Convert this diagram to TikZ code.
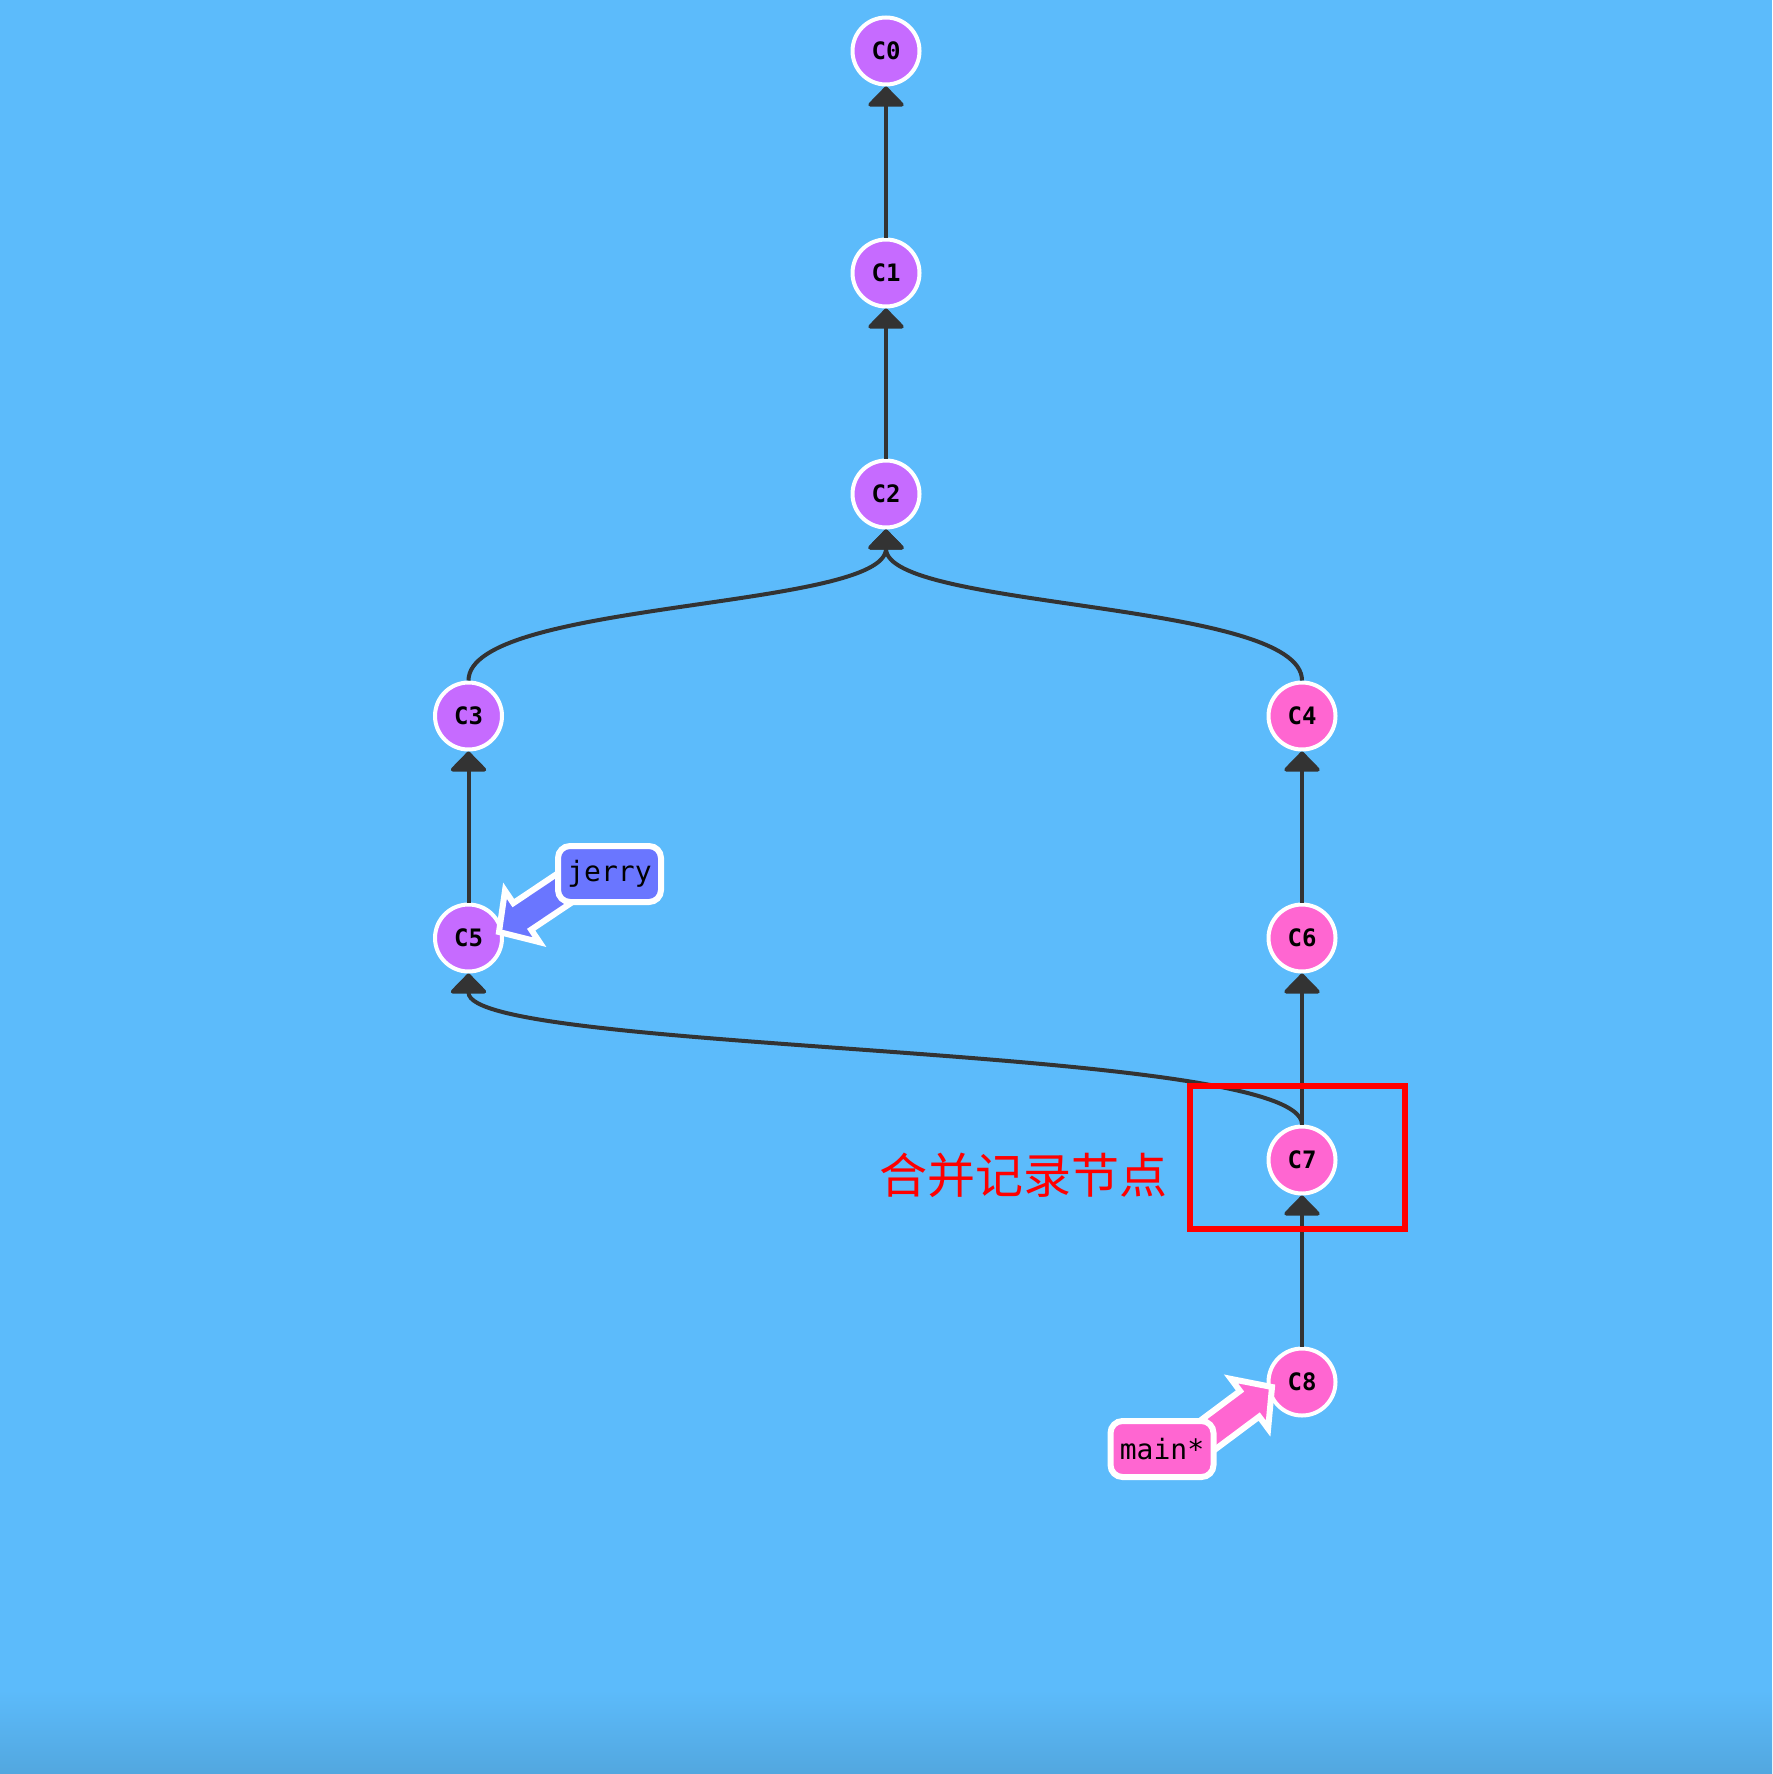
\documentclass[tikz,border=0pt]{standalone}
\usepackage{fontspec}
\newfontfamily\monofnt{DejaVu Sans Mono}
\newfontfamily\cjkfnt{Noto Sans CJK SC}
\usetikzlibrary{arrows.meta,calc}
\definecolor{bgc}{HTML}{5CBBFB}
\definecolor{bgd}{HTML}{52A7DF}
\definecolor{purp}{HTML}{C66BFF}
\definecolor{pinkc}{HTML}{FF66D1}
\definecolor{jerc}{HTML}{6A76FF}
\definecolor{edgec}{HTML}{333333}
\pgfdeclarelayer{bg}\pgfdeclarelayer{arr}\pgfdeclarelayer{top}
\pgfsetlayers{bg,main,arr,top}
\begin{document}
\begin{tikzpicture}[x=1pt,y=-1pt,
  commit/.style={circle, draw=white, line width=4pt, minimum size=67pt, inner sep=0pt, font=\monofnt\bfseries\fontsize{24}{24}\selectfont},
  pc/.style={commit, fill=purp},
  kc/.style={commit, fill=pinkc},
  edge/.style={draw=edgec, line width=4pt, -{Triangle[width=40pt,length=21pt,round]}},
  blabel/.style={rectangle, rounded corners=12pt, draw=white, line width=6pt, minimum width=103pt, minimum height=56pt, inner sep=0pt, font=\monofnt\fontsize{28}{28}\selectfont},
  barrow/.style={draw=white, line width=6pt, line join=miter, miter limit=10}
]
\begin{pgfonlayer}{bg}
\fill[bgc] (0,0) rectangle (1772,1774);
\shade[top color=bgc, bottom color=bgd] (0,1690) rectangle (1772,1774);
\end{pgfonlayer}
\useasboundingbox (0,0) rectangle (1772,1774);

\node[pc] (C0) at (886,51) {C0};
\node[pc] (C1) at (886,273) {C1};
\node[pc] (C2) at (886,494) {C2};
\node[pc] (C3) at (468.5,716) {C3};
\node[kc] (C4) at (1302,716) {C4};
\node[pc] (C5) at (468.5,938) {C5};
\node[kc] (C6) at (1302,938) {C6};
\node[kc] (C7) at (1302,1160) {C7};
\node[kc] (C8) at (1302,1382) {C8};

\draw[edge] (C1) -- (C0);
\draw[edge] (C2) -- (C1);
\draw[edge] (C3.north) .. controls +(0,-80) and +(0,80) .. (C2.south);
\draw[edge] (C4.north) .. controls +(0,-80) and +(0,80) .. (C2.south);
\draw[edge] (C5) -- (C3);
\draw[edge] (C6) -- (C4);
\draw[edge] (C7) -- (C6);
\draw[edge] (C7.north) .. controls +(0,-80) and +(0,80) .. (C5.south);
\draw[edge] (C8) -- (C7);

\begin{pgfonlayer}{top}
\node[blabel, fill=jerc] (jerry) at (609.5,874) {jerry};
\node[blabel, fill=pinkc] (mainb) at (1162,1449) {main*};
\node[draw=red, line width=6pt, minimum width=215pt, minimum height=143pt, inner sep=0pt] (hl) at (1297.5,1157.5) {};
\node[anchor=base, text=red, inner sep=0pt, font=\cjkfnt\fontsize{48}{48}\selectfont] (note) at (1023.5,1193) {合并记录节点};
\end{pgfonlayer}

\begin{pgfonlayer}{arr}
\coordinate (jt) at (499,932);
\coordinate (jb) at ($(jerry.center)+(-24,0)$);
\coordinate (jh) at ($(jt)!28pt!(jb)$);
\draw[barrow, fill=jerc] (jt) -- ($(jh)!31pt!90:(jb)$) -- ($(jh)!16pt!90:(jb)$) -- ($(jb)!16pt!-90:(jt)$) -- ($(jb)!16pt!90:(jt)$) -- ($(jh)!16pt!-90:(jb)$) -- ($(jh)!31pt!-90:(jb)$) -- cycle;
\coordinate (mt) at (1272,1387);
\coordinate (mb) at ($(mainb.center)+(27,0)$);
\coordinate (mh) at ($(mt)!28pt!(mb)$);
\draw[barrow, fill=pinkc] (mt) -- ($(mh)!31pt!90:(mb)$) -- ($(mh)!16pt!90:(mb)$) -- ($(mb)!16pt!-90:(mt)$) -- ($(mb)!16pt!90:(mt)$) -- ($(mh)!16pt!-90:(mb)$) -- ($(mh)!31pt!-90:(mb)$) -- cycle;
\end{pgfonlayer}
\end{tikzpicture}
\end{document}
